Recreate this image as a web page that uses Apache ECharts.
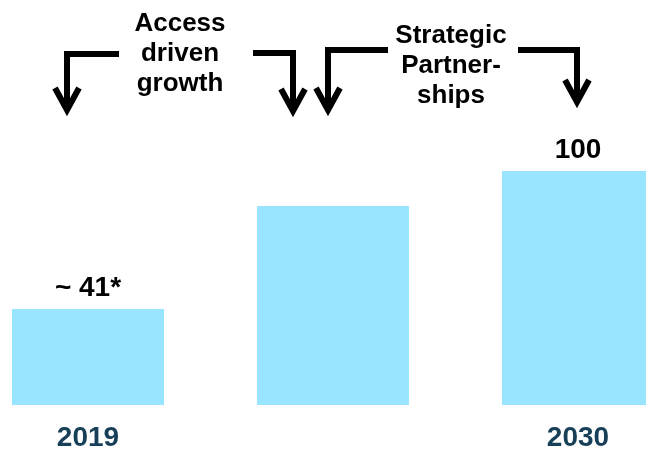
<!DOCTYPE html>
<html>
<head>
<meta charset="utf-8">
<script src="https://cdn.jsdelivr.net/npm/echarts@6/dist/echarts.min.js"></script>
<style>
  html, body { margin: 0; padding: 0; background: #ffffff; }
  #chart { width: 646px; height: 452px; }
</style>
</head>
<body>
<div id="chart"></div>
<script>
// Index values per period (2030 = 100)
const years = ['2019', '', '2030'];
const values = [41, 85, 100];
const valueLabels = ['~ 41*', '', '100'];

// Growth drivers written above the bars
const driverAccess = ['Access', 'driven', 'growth'];
const driverPartners = ['Strategic', 'Partner-', 'ships'];

const FONT = '"Liberation Sans", Arial, sans-serif';
const chart = echarts.init(document.getElementById('chart'), null, { renderer: 'canvas' });

// Elbow arrow: shaft polyline plus an open chevron head
function arrow(points, head) {
  const style = { stroke: '#000', lineWidth: 6, fill: null, lineJoin: 'miter', lineCap: 'butt' };
  return [
    { type: 'polyline', shape: { points: points }, style: style, silent: true },
    { type: 'polyline', shape: { points: head }, style: style, silent: true }
  ];
}

function driverText(lines, x, y) {
  return {
    type: 'text',
    x: x,
    y: y,
    silent: true,
    style: {
      text: lines.join('\n'),
      font: 'bold 26px ' + FONT,
      fill: '#000',
      align: 'center',
      verticalAlign: 'middle',
      lineHeight: 30
    }
  };
}

const graphics = [].concat(
  arrow([[119, 54], [67, 54], [67, 110]], [[55, 88], [67, 110], [79, 88]]),
  arrow([[253, 53], [293, 53], [293, 111]], [[281, 89], [293, 111], [305, 89]]),
  arrow([[388, 50], [328, 50], [328, 110]], [[316, 88], [328, 110], [340, 88]]),
  arrow([[518, 50], [577, 50], [577, 102]], [[565, 80], [577, 102], [589, 80]]),
  [driverText(driverAccess, 180, 54), driverText(driverPartners, 451, 66)]
);

chart.setOption({
  animation: false,
  backgroundColor: '#ffffff',
  textStyle: { fontFamily: FONT },
  grid: { left: 88, right: 68, top: 171, bottom: 44.5, containLabel: false },
  xAxis: {
    type: 'category',
    data: years,
    boundaryGap: false,
    axisLine: { show: false },
    axisTick: { show: false },
    splitLine: { show: false },
    axisLabel: {
      margin: 19,
      fontSize: 28,
      fontWeight: 'bold',
      fontFamily: FONT,
      color: '#173f58',
      interval: 0
    }
  },
  yAxis: {
    type: 'value',
    min: 0,
    max: 100,
    show: false
  },
  series: [{
    type: 'bar',
    data: values,
    barWidth: 152,
    clip: false,
    itemStyle: { color: '#99e5ff' },
    label: {
      show: true,
      position: 'top',
      distance: 7,
      fontSize: 28,
      fontWeight: 'bold',
      fontFamily: FONT,
      color: '#000',
      formatter: function (p) { return valueLabels[p.dataIndex]; }
    }
  }],
  graphic: graphics
});
</script>
</body>
</html>
